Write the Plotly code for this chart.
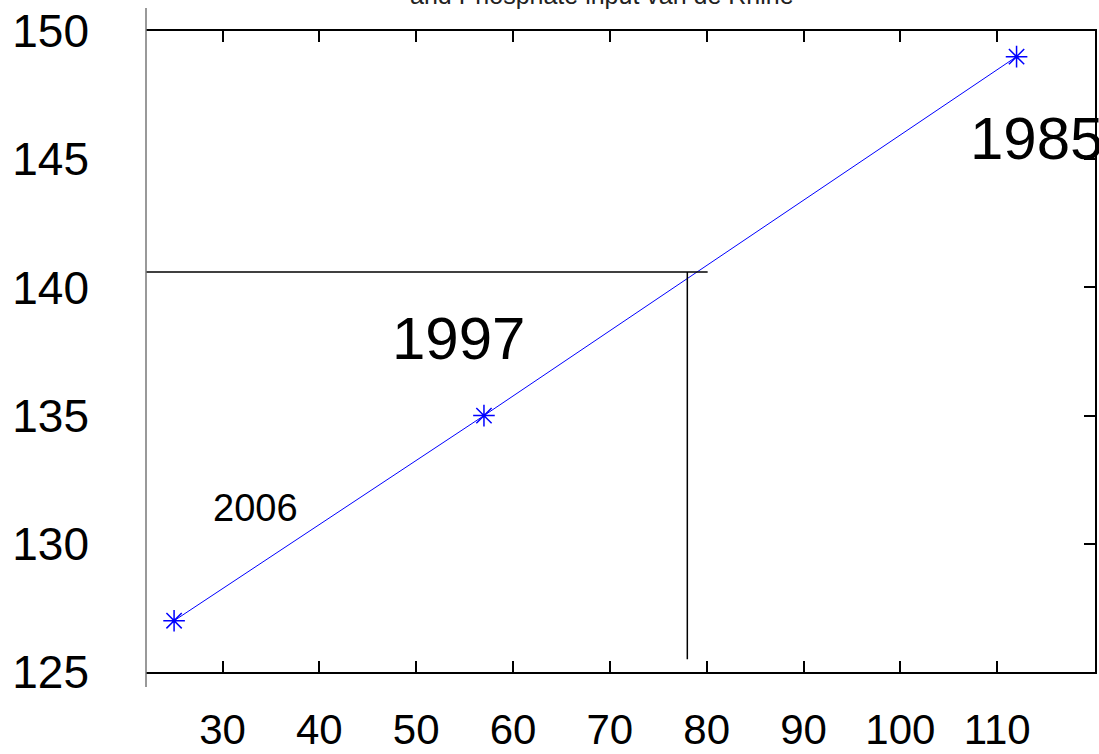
import plotly.graph_objects as go

# nitrogen/phosphate input vs concentration, labelled by year
x_vals = [25, 57, 112]
y_vals = [127, 135, 149]
years = ["2006", "1997", "1985"]

# where the years are written
year_x = [33.4, 54.4, 107.0]
year_y = [131.4, 138.0, 145.8]
year_size = [38, 60, 60]

# reading off the fitted line at 140
guide_h_x = [22.1, 80.1]
guide_h_y = [140.6, 140.6]
guide_v_x = [78, 78]
guide_v_y = [140.6, 125.5]

x_ticks = [30, 40, 50, 60, 70, 80, 90, 100, 110]
y_ticks = [125, 130, 135, 140, 145, 150]
x_range = [22.1, 120.1]
y_range = [125, 150]

title = "and Phosphate input van de Rhine"

fig = go.Figure()

fig.add_trace(
    go.Scatter(
        x=x_vals,
        y=y_vals,
        mode="lines+markers",
        line=dict(color="#0000FF", width=1),
        marker=dict(symbol="asterisk-open", size=18, line=dict(color="#0000FF", width=1.5)),
        showlegend=False,
    )
)

for gx, gy in [(guide_h_x, guide_h_y), (guide_v_x, guide_v_y)]:
    fig.add_trace(
        go.Scatter(
            x=gx,
            y=gy,
            yaxis="y2",
            mode="lines",
            line=dict(color="black", width=1.5),
            showlegend=False,
            cliponaxis=False,
        )
    )

for txt, ax, ay, sz in zip(years, year_x, year_y, year_size):
    fig.add_annotation(
        x=ax,
        y=ay,
        text=txt,
        showarrow=False,
        xanchor="left" if txt == "1985" else "center",
        font=dict(size=sz, color="black"),
    )

fig.add_annotation(
    xref="paper",
    yref="paper",
    x=0.48,
    y=1,
    yshift=20,
    yanchor="bottom",
    text=title,
    showarrow=False,
    font=dict(size=25, color="#222222"),
)

# grey left edge that runs past the box
fig.add_shape(
    type="line",
    xref="paper",
    yref="paper",
    x0=0,
    x1=0,
    y0=-0.0234,
    y1=1.036,
    line=dict(color="#777777", width=1.5),
)

fig.update_layout(
    width=1099,
    height=754,
    margin=dict(l=146, r=4, t=31, b=82, autoexpand=False),
    plot_bgcolor="white",
    paper_bgcolor="white",
    font=dict(family="Liberation Sans, Arial", color="black"),
    xaxis=dict(
        range=x_range,
        tickvals=x_ticks,
        ticks="inside",
        ticklen=11,
        tickwidth=1.5,
        tickcolor="black",
        showline=True,
        linecolor="black",
        linewidth=1.5,
        mirror="ticks",
        showgrid=False,
        zeroline=False,
        tickfont=dict(family="Liberation Sans, Arial", size=42, color="black"),
        ticklabelstandoff=20,
        automargin=False,
    ),
    yaxis=dict(
        range=y_range,
        tickvals=y_ticks,
        ticks="",
        showline=False,
        showgrid=False,
        zeroline=False,
        tickfont=dict(family="Liberation Sans, Arial", size=46, color="black"),
        ticklabelstandoff=56,
        automargin=False,
    ),
    yaxis2=dict(
        range=y_range,
        tickvals=y_ticks,
        overlaying="y",
        side="right",
        ticks="inside",
        ticklen=11,
        tickwidth=1.5,
        tickcolor="black",
        showticklabels=False,
        showline=True,
        linecolor="black",
        linewidth=1.5,
        showgrid=False,
        zeroline=False,
        automargin=False,
    ),
)

# drop the page's default body margin so the figure sits at the window corner
fig.write_html(
    "out.html",
    config={"displayModeBar": False},
    post_script="document.body.style.margin='0';document.body.style.overflow='hidden';",
)
